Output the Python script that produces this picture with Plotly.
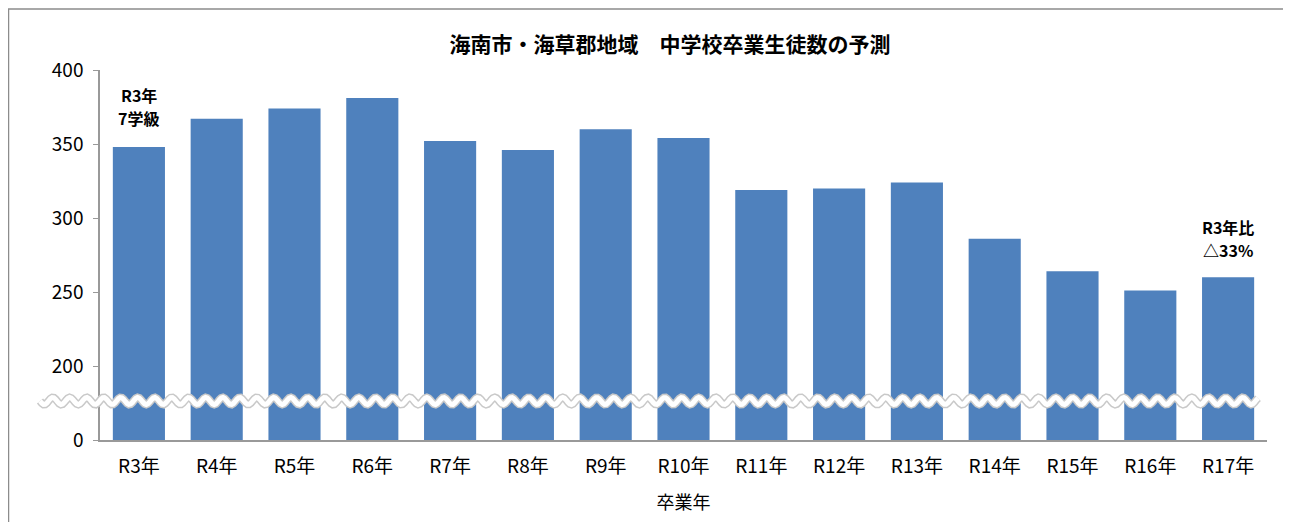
import numpy as np
import plotly.graph_objects as go

categories = ["R3年", "R4年", "R5年", "R6年", "R7年", "R8年", "R9年", "R10年",
              "R11年", "R12年", "R13年", "R14年", "R15年", "R16年", "R17年"]
graduates = [348, 367, 374, 381, 352, 346, 360, 354, 319, 320, 324, 286, 264, 251, 260]
tick_labels = [0, 200, 250, 300, 350, 400]
break_offset = 150  # values below 200 are compressed by the axis break

title_text = "海南市・海草郡地域　中学校卒業生徒数の予測"
note_first = ["R3年", "7学級"]
note_last = ["R3年比", "△33%"]

FONT = "Noto Sans CJK JP"

# page has an 8px body margin; work in page pixels and convert
OFF = 8
W, H = 1291 - OFF, 522 - OFF
plot_left, plot_right, plot_top, plot_bottom = 100, 1267, 70, 440
ml = plot_left - OFF
mt = plot_top - OFF
mr = (1291 - OFF) - (plot_right - OFF)
mb = (522 - OFF) - (plot_bottom - OFF)
pw, ph = plot_right - plot_left, plot_bottom - plot_top

def to_paper(px, py):
    return (px - plot_left) / pw, 1 - (py - plot_top) / ph

fig = go.Figure()
fig.add_trace(go.Bar(
    x=categories,
    y=[v - break_offset for v in graduates],
    marker=dict(color="#4F81BD", line=dict(width=0)),
    width=0.67,
    customdata=graduates,
    hovertemplate="%{x}: %{customdata}<extra></extra>",
))

# wavy axis-break band (decoration)
xs = np.linspace(40, 1258, 700)
ys = 401 + 3.5 * np.sin((xs - 40) / 17.0 * 2 * np.pi)
pts = [to_paper(a, b) for a, b in zip(xs, ys)]
path = "M " + " L ".join(f"{a:.5f},{b:.5f}" for a, b in pts)

shapes = [
    dict(type="path", path=path, xref="paper", yref="paper",
         line=dict(color="#c9c9c9", width=8)),
    dict(type="path", path=path, xref="paper", yref="paper",
         line=dict(color="white", width=5)),
]
# outer chart border
bx0, by0 = to_paper(8.5, 9)
bx1, by1 = to_paper(1320, 560)
shapes.append(dict(type="rect", xref="paper", yref="paper", x0=bx0, y0=by1, x1=bx1, y1=by0,
                   line=dict(color="#8c8c8c", width=1.5), fillcolor="rgba(0,0,0,0)", layer="below"))

annotations = []
for i, line in enumerate(note_first):
    annotations.append(dict(text=f"<b>{line}</b>", x=categories[0], xref="x",
                            y=to_paper(0, 95 + 23 * i)[1], yref="paper",
                            showarrow=False, yanchor="middle", font=dict(size=16)))
for i, line in enumerate(note_last):
    annotations.append(dict(text=f"<b>{line}</b>", x=categories[-1], xref="x",
                            y=to_paper(0, 227 + 23 * i)[1], yref="paper",
                            showarrow=False, yanchor="middle", font=dict(size=16)))

fig.update_layout(
    width=W, height=H,
    margin=dict(l=ml, r=mr, t=mt, b=mb),
    paper_bgcolor="white", plot_bgcolor="white",
    showlegend=False,
    bargap=0.33,
    font=dict(family=FONT, color="black"),
    title=dict(text=f"<b>{title_text}</b>", x=(670 - OFF) / W, xanchor="center",
               y=1 - (45 - OFF) / H, yanchor="middle", font=dict(size=21, family=FONT)),
    shapes=shapes,
    xaxis=dict(showline=True, linecolor="#999999", linewidth=1.5, ticks="",
               tickfont=dict(size=19), showgrid=False, ticklabelstandoff=8,
               title=dict(text="卒業年", font=dict(size=18), standoff=20)),
    yaxis=dict(range=[0, 250], showline=True, linecolor="#999999", linewidth=1.5,
               ticks="outside", ticklen=5, tickcolor="#999999",
               tickvals=[0 if t == 0 else t - break_offset for t in tick_labels],
               ticktext=[str(t) for t in tick_labels], ticklabelstandoff=6,
               tickfont=dict(size=19), showgrid=False, zeroline=False),
    annotations=annotations,
)

fig.write_html("out.html")
